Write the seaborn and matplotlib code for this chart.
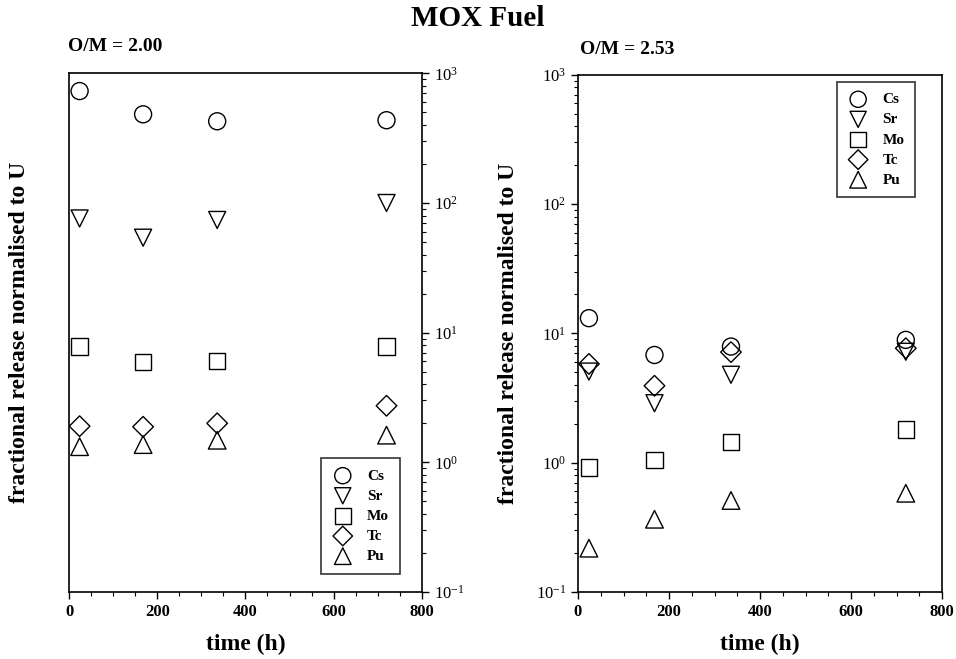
import matplotlib
matplotlib.use("Agg")
import matplotlib.pyplot as plt
import matplotlib.ticker as mticker
import seaborn as sns
import pandas as pd

# sampling times (h)
times = [24, 168, 336, 720]
elements = ["Cs", "Sr", "Mo", "Tc", "Pu"]

# O/M = 2.00
om200_cs = [730, 483, 427, 435]
om200_sr = [76, 54, 74, 100]
om200_mo = [7.8, 5.95, 6.07, 7.8]
om200_tc = [1.9, 1.88, 2.0, 2.73]
om200_pu = [1.32, 1.37, 1.48, 1.62]

# O/M = 2.53
om253_cs = [13.1, 6.8, 7.9, 8.9]
om253_sr = [5.06, 2.88, 4.78, 7.2]
om253_mo = [0.92, 1.05, 1.44, 1.81]
om253_tc = [5.8, 3.93, 7.16, 7.67]
om253_pu = [0.218, 0.365, 0.51, 0.58]

markers = {"Cs": "o", "Sr": "v", "Mo": "s", "Tc": "D", "Pu": "^"}
sizes = {"Cs": 150, "Sr": 150, "Mo": 140, "Tc": 110, "Pu": 160}


def to_frame(series):
    rows = []
    for el, vals in zip(elements, series):
        for t, v in zip(times, vals):
            rows.append({"time": t, "release": v, "element": el})
    return pd.DataFrame(rows)


df_200 = to_frame([om200_cs, om200_sr, om200_mo, om200_tc, om200_pu])
df_253 = to_frame([om253_cs, om253_sr, om253_mo, om253_tc, om253_pu])

sns.set_style("ticks")
plt.rcParams["font.family"] = ["Liberation Serif", "DejaVu Serif"]
plt.rcParams["mathtext.fontset"] = "stix"
for key in ["text.color", "axes.labelcolor", "xtick.color", "ytick.color", "axes.edgecolor"]:
    plt.rcParams[key] = "black"

fig = plt.figure(figsize=(9.56, 6.59), dpi=100)
ax1 = fig.add_axes([0.0722, 0.1017, 0.369, 0.787])
ax2 = fig.add_axes([0.6046, 0.1017, 0.381, 0.785])


def draw_panel(ax, df, legend_loc, anchor):
    for el in elements:
        sub = df[df["element"] == el]
        sns.scatterplot(data=sub, x="time", y="release", ax=ax,
                        marker=markers[el], s=sizes[el], facecolor="none",
                        edgecolor="black", linewidth=1.0, label=el)
    ax.set_yscale("log")
    ax.set_xlim(0, 800)
    ax.set_ylim(0.1, 1000)
    ax.xaxis.set_major_locator(mticker.MultipleLocator(200))
    ax.xaxis.set_minor_locator(mticker.MultipleLocator(50))
    ax.yaxis.set_major_locator(mticker.LogLocator(base=10, numticks=10))
    ax.yaxis.set_minor_locator(mticker.LogLocator(base=10, subs=range(2, 10), numticks=20))
    ax.yaxis.set_major_formatter(mticker.LogFormatterMathtext())
    ax.yaxis.set_minor_formatter(mticker.NullFormatter())
    ax.tick_params(which="major", length=5, width=1, labelsize=12)
    ax.tick_params(which="minor", length=3, width=0.8)
    for lab in ax.get_xticklabels():
        lab.set_fontweight("bold")
    for sp in ax.spines.values():
        sp.set_linewidth(1.2)
        sp.set_visible(True)
    ax.set_xlabel("time (h)", fontsize=17, fontweight="bold", labelpad=10)
    ax.set_ylabel("fractional release normalised to U", fontsize=17,
                  fontweight="bold")
    leg = ax.legend(loc=legend_loc, bbox_to_anchor=anchor, frameon=True,
                    fancybox=False, edgecolor="black", borderpad=0.7,
                    labelspacing=0.42, handlelength=1.4, handletextpad=0.9,
                    markerscale=0.95, borderaxespad=0,
                    prop={"size": 11, "weight": "bold"})
    leg.get_frame().set_linewidth(1.2)


draw_panel(ax1, df_200, "lower right", (0.938, 0.035))
ax1.yaxis.tick_right()
ax1.yaxis.set_label_position("left")
ax1.yaxis.labelpad = 28
ax1.tick_params(axis="y", which="both", left=False, right=True)

draw_panel(ax2, df_253, "upper right", (0.926, 0.986))
ax2.yaxis.labelpad = 12

fig.text(0.5, 0.972, "MOX Fuel", ha="center", va="center",
         fontsize=21, fontweight="bold")
fig.text(0.071, 0.93, "O/M = 2.00", ha="left", va="center",
         fontsize=14, fontweight="bold")
fig.text(0.607, 0.925, "O/M = 2.53", ha="left", va="center",
         fontsize=14, fontweight="bold")

fig.savefig("out.png", dpi=100)
plt.close(fig)
